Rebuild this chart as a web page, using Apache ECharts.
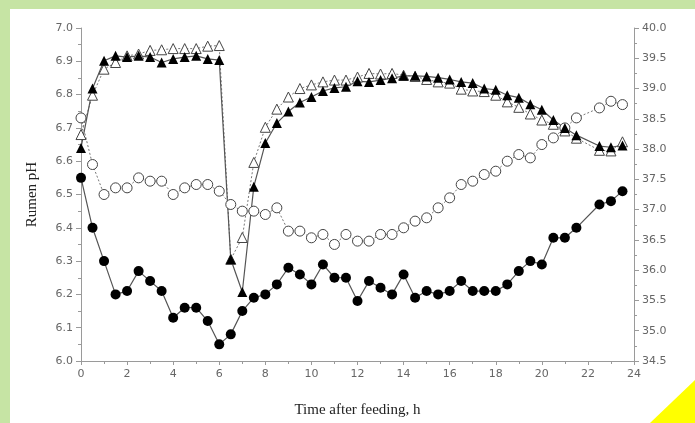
<!DOCTYPE html>
<html>
<head>
<meta charset="utf-8">
<script src="https://cdn.jsdelivr.net/npm/echarts@6/dist/echarts.min.js"></script>
<style>
  html, body { margin: 0; padding: 0; background: #fff; }
  #chart { width: 695px; height: 423px; }
</style>
</head>
<body>
<div id="chart"></div>
<script>
// hours after feeding, every half hour
const hours = [0, 0.5, 1, 1.5, 2, 2.5, 3, 3.5, 4, 4.5, 5, 5.5,
  6, 6.5, 7, 7.5, 8, 8.5, 9, 9.5, 10, 10.5, 11, 11.5,
  12, 12.5, 13, 13.5, 14, 14.5, 15, 15.5, 16, 16.5, 17, 17.5,
  18, 18.5, 19, 19.5, 20, 20.5, 21, 21.5, 22, 22.5, 23, 23.5]

// filled circles (left axis)
const phFilled = [6.55, 6.40, 6.30, 6.20, 6.21, 6.27, 6.24, 6.21, 6.13, 6.16, 6.16, 6.12,
  6.05, 6.08, 6.15, 6.19, 6.20, 6.23, 6.28, 6.26, 6.23, 6.29, 6.25, 6.25,
  6.18, 6.24, 6.22, 6.20, 6.26, 6.19, 6.21, 6.20, 6.21, 6.24, 6.21, 6.21,
  6.21, 6.23, 6.27, 6.30, 6.29, 6.37, 6.37, 6.40, null, 6.47, 6.48, 6.51]

// open circles (left axis)
const phOpen = [6.73, 6.59, 6.50, 6.52, 6.52, 6.55, 6.54, 6.54, 6.50, 6.52, 6.53, 6.53,
  6.51, 6.47, 6.45, 6.45, 6.44, 6.46, 6.39, 6.39, 6.37, 6.38, 6.35, 6.38,
  6.36, 6.36, 6.38, 6.38, 6.40, 6.42, 6.43, 6.46, 6.49, 6.53, 6.54, 6.56,
  6.57, 6.60, 6.62, 6.61, 6.65, 6.67, 6.70, 6.73, null, 6.76, 6.78, 6.77]

// filled triangles (right axis)
const tempFilled = [38.02, 39.00, 39.46, 39.54, 39.52, 39.54, 39.52, 39.43, 39.49, 39.52, 39.54, 39.49,
  39.47, 36.18, 35.64, 37.38, 38.10, 38.43, 38.62, 38.77, 38.86, 38.96, 39.01, 39.03,
  39.12, 39.11, 39.14, 39.17, 39.21, 39.21, 39.20, 39.18, 39.15, 39.11, 39.09, 39.00,
  38.98, 38.89, 38.85, 38.74, 38.65, 38.48, 38.35, 38.23, null, 38.05, 38.03, 38.06]

// open triangles (right axis)
const tempOpen = [38.24, 38.89, 39.32, 39.43, 39.54, 39.57, 39.63, 39.64, 39.66, 39.66, 39.66, 39.70,
  39.71, 36.18, 36.54, 37.78, 38.36, 38.66, 38.86, 39.00, 39.06, 39.11, 39.14, 39.14,
  39.19, 39.25, 39.24, 39.25, 39.22, 39.20, 39.15, 39.11, 39.09, 38.99, 38.96, 38.95,
  38.89, 38.78, 38.69, 38.58, 38.48, 38.41, 38.30, 38.18, null, 37.98, 37.97, 38.12]

const toPairs = (vals) => {
  const out = []
  vals.forEach((v, i) => {
    if (v !== null) out.push([hours[i], v])
  })
  return out
}

const chart = echarts.init(document.getElementById('chart'), null, { renderer: 'canvas' })

const tickLabel = { color: '#666', fontFamily: 'DejaVu Sans', fontSize: 11 }
const axisLine = { show: true, lineStyle: { color: '#9a9a9a', width: 1 } }
const nameStyle = { color: '#222', fontFamily: 'Liberation Serif', fontSize: 15 }

const option = {
  backgroundColor: '#fff',
  animation: false,
  grid: { left: 81, right: 61, top: 28, bottom: 61 },
  graphic: [
    { type: 'rect', shape: { x: 0, y: 0, width: 695, height: 9 }, style: { fill: '#c6e4a4' }, silent: true },
    { type: 'rect', shape: { x: 0, y: 0, width: 10, height: 423 }, style: { fill: '#c6e4a4' }, silent: true },
    { type: 'polygon', shape: { points: [[650, 423], [695, 380], [695, 423]] }, style: { fill: '#ffff00' }, silent: true }
  ],
  xAxis: {
    type: 'value',
    min: 0,
    max: 24,
    interval: 2,
    name: 'Time after feeding, h',
    nameLocation: 'middle',
    nameGap: 42,
    nameTextStyle: nameStyle,
    axisLine: axisLine,
    axisTick: { show: true, length: 4, lineStyle: { color: '#9a9a9a' } },
    minorTick: { show: true, splitNumber: 2, length: 3, lineStyle: { color: '#9a9a9a' } },
    axisLabel: tickLabel,
    splitLine: { show: false }
  },
  yAxis: [
    {
      type: 'value',
      min: 6.0,
      max: 7.0,
      interval: 0.1,
      name: 'Rumen pH',
      nameLocation: 'middle',
      nameGap: 41,
      nameTextStyle: nameStyle,
      axisLine: axisLine,
      axisTick: { show: true, length: 5, lineStyle: { color: '#9a9a9a' } },
      minorTick: { show: true, splitNumber: 2, length: 3, lineStyle: { color: '#9a9a9a' } },
      axisLabel: Object.assign({ formatter: (v) => v.toFixed(1) }, tickLabel),
      splitLine: { show: false }
    },
    {
      type: 'value',
      min: 34.5,
      max: 40.0,
      interval: 0.5,
      position: 'right',
      axisLine: axisLine,
      axisTick: { show: true, length: 5, lineStyle: { color: '#9a9a9a' } },
      minorTick: { show: true, splitNumber: 2, length: 3, lineStyle: { color: '#9a9a9a' } },
      axisLabel: Object.assign({ formatter: (v) => v.toFixed(1) }, tickLabel),
      splitLine: { show: false }
    }
  ],
  series: [
    {
      type: 'line',
      yAxisIndex: 0,
      data: toPairs(phOpen),
      symbol: 'circle',
      symbolSize: 10,
      lineStyle: { color: '#777', width: 1, type: [2, 2] },
      itemStyle: { color: '#fff', borderColor: '#444', borderWidth: 1 }
    },
    {
      type: 'line',
      yAxisIndex: 1,
      data: toPairs(tempOpen),
      symbol: 'triangle',
      symbolSize: 10,
      lineStyle: { color: '#777', width: 1, type: [2, 2] },
      itemStyle: { color: '#fff', borderColor: '#444', borderWidth: 1 }
    },
    {
      type: 'line',
      yAxisIndex: 1,
      data: toPairs(tempFilled),
      symbol: 'triangle',
      symbolSize: 10,
      lineStyle: { color: '#555', width: 1.2 },
      itemStyle: { color: '#000' }
    },
    {
      type: 'line',
      yAxisIndex: 0,
      data: toPairs(phFilled),
      symbol: 'circle',
      symbolSize: 10,
      lineStyle: { color: '#555', width: 1.2 },
      itemStyle: { color: '#000' }
    }
  ]
}

chart.setOption(option)
</script>
</body>
</html>
